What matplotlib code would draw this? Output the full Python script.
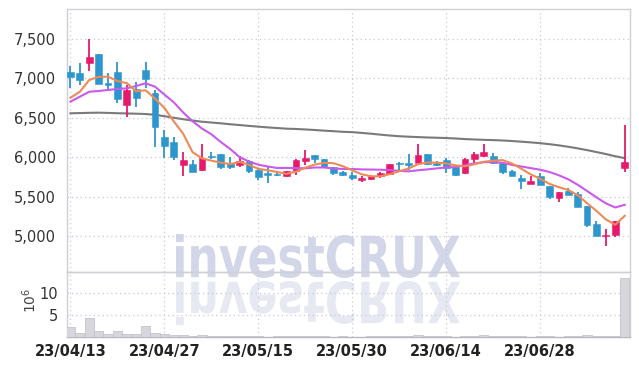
import matplotlib
matplotlib.use("Agg")
import matplotlib.pyplot as plt
import numpy as np
from matplotlib.textpath import TextPath
from matplotlib.font_manager import FontProperties
from matplotlib.patches import PathPatch
from matplotlib.transforms import Affine2D
from matplotlib.ticker import FuncFormatter

plt.rcParams['font.family'] = ['Liberation Sans Narrow', 'DejaVu Sans']

# daily candles, 2023-04-13 .. (index = trading day)
opens = [7080, 7070, 7200, 7310, 6945, 7075, 6665, 6870, 7105, 6810,
         6255, 6195, 5905, 5915, 5840, 6015, 6040, 5925, 5905, 5955,
         5840, 5805, 5790, 5765, 5830, 5955, 6030, 5975, 5870, 5810,
         5775, 5710, 5720, 5755, 5790, 5925, 5925, 5925, 6040, 5930,
         5965, 5880, 5795, 5975, 6010, 6015, 5930, 5830, 5730, 5660,
         5760, 5635, 5480, 5575, 5535, 5380, 5155, 5000, 5015, 5865]
highs = [7160, 7190, 7500, 7310, 7065, 7210, 6915, 6960, 7205, 6850,
         6345, 6250, 6060, 5970, 6165, 6065, 6040, 6000, 6015, 5960,
         5850, 5890, 5820, 5830, 5975, 6090, 6030, 5975, 5880, 5830,
         5810, 5765, 5770, 5815, 5915, 5945, 6035, 6165, 6045, 5950,
         5995, 5900, 5985, 6070, 6165, 6050, 5935, 5835, 5770, 5755,
         5795, 5640, 5555, 5615, 5560, 5385, 5185, 5085, 5185, 6410]
lows = [6880, 6920, 7100, 6925, 6855, 6685, 6505, 6640, 6875, 6125,
        5985, 5965, 5765, 5810, 5830, 5975, 5855, 5845, 5870, 5795,
        5710, 5670, 5755, 5745, 5770, 5900, 5925, 5865, 5770, 5755,
        5710, 5690, 5710, 5740, 5785, 5840, 5840, 5920, 5900, 5890,
        5795, 5765, 5790, 5900, 6005, 5910, 5790, 5760, 5595, 5655,
        5645, 5470, 5435, 5515, 5365, 5110, 4995, 4870, 4985, 5810]
closes = [7020, 6985, 7270, 6925, 6910, 6740, 6855, 6750, 6990, 6385,
          6145, 6005, 5965, 5815, 5995, 6005, 5880, 5870, 5950, 5820,
          5745, 5780, 5770, 5825, 5965, 5990, 5980, 5880, 5805, 5770,
          5730, 5730, 5755, 5800, 5910, 5910, 5905, 6030, 5910, 5900,
          5860, 5775, 5975, 6035, 6060, 5925, 5815, 5765, 5700, 5700,
          5650, 5490, 5555, 5525, 5370, 5140, 5000, 5015, 5185, 5945]
volume = [2.3, 0.9, 4.3, 1.4, 0.75, 1.4, 0.7, 0.7, 2.5, 1.0,
          0.75, 0.5, 0.45, 0.25, 0.45, 0.25, 0.2, 0.2, 0.2, 0.2,
          0.2, 0.1, 0.3, 0.25, 0.3, 0.25, 0.2, 0.2, 0.15, 0.2,
          0.15, 0.15, 0.2, 0.25, 0.3, 0.3, 0.25, 0.45, 0.3, 0.2,
          0.2, 0.15, 0.3, 0.3, 0.5, 0.3, 0.2, 0.2, 0.3, 0.15,
          0.2, 0.2, 0.15, 0.2, 0.25, 0.45, 0.25, 0.25, 0.3, 13.4]
ma5 = [6755, 6830, 6980, 7020, 7022, 6966, 6940, 6836, 6849, 6744,
       6625, 6455, 6298, 6063, 5985, 5956, 5931, 5912, 5939, 5904,
       5853, 5833, 5813, 5788, 5817, 5866, 5906, 5928, 5924, 5885,
       5833, 5783, 5758, 5757, 5785, 5821, 5856, 5911, 5933, 5931,
       5921, 5895, 5884, 5910, 5942, 5955, 5963, 5920, 5854, 5781,
       5726, 5661, 5619, 5583, 5518, 5416, 5318, 5210, 5142, 5256]
ma10 = [6705, 6768, 6831, 6840, 6853, 6866, 6874, 6904, 6938, 6895,
        6795, 6697, 6567, 6456, 6364, 6291, 6193, 6105, 6001, 5945,
        5905, 5882, 5863, 5864, 5861, 5859, 5869, 5870, 5856, 5851,
        5850, 5845, 5843, 5841, 5835, 5827, 5820, 5834, 5845, 5858,
        5871, 5875, 5898, 5921, 5936, 5938, 5929, 5902, 5882, 5861,
        5841, 5812, 5770, 5719, 5650, 5571, 5490, 5414, 5362, 5395]
ma_long = [6557, 6560, 6563, 6565, 6562, 6558, 6555, 6552, 6548, 6538,
           6520, 6500, 6482, 6465, 6450, 6440, 6430, 6418, 6408, 6397,
           6388, 6378, 6370, 6362, 6358, 6352, 6345, 6337, 6330, 6322,
           6318, 6308, 6298, 6286, 6275, 6266, 6260, 6255, 6250, 6247,
           6243, 6237, 6230, 6225, 6220, 6217, 6212, 6205, 6197, 6188,
           6178, 6165, 6150, 6132, 6112, 6090, 6065, 6040, 6012, 5988]

tick_idx = [0, 10, 20, 30, 40, 50]
tick_labels = ['23/04/13', '23/04/27', '23/05/15', '23/05/30', '23/06/14', '23/06/28']

UP = '#e6196a'
DOWN = '#2d96cd'
GRID = '#c8c8d8'
SPINE = '#cfcfd6'

W, H = 639, 366
fig = plt.figure(figsize=(W / 100, H / 100), dpi=100, facecolor='white')
ax = fig.add_axes([66.7 / W, 1 - 272.3 / H, (630.3 - 66.7) / W, (272.3 - 9.3) / H])
vax = fig.add_axes([66.7 / W, 1 - 337.3 / H, (630.3 - 66.7) / W, (337.3 - 272.3) / H], sharex=ax)
for a in (ax, vax):
    a.patch.set_visible(False)

x = np.arange(len(closes))
o = np.array(opens); c = np.array(closes)
cols = [UP if cc >= oo else DOWN for oo, cc in zip(o, c)]

ax.vlines(x, lows, highs, colors=cols, linewidth=1.3, zorder=3)
body_bot = np.minimum(o, c)
body_h = np.maximum(np.abs(c - o), 14)
ax.bar(x, body_h, bottom=body_bot, width=0.72, color=cols, edgecolor=cols, linewidth=0.4, zorder=4)

ax.plot(x, ma_long, color='#7a7a7a', lw=1.5, zorder=2)
ax.plot(x, ma10, color='#c95aec', lw=1.5, zorder=5)
ax.plot(x, ma5, color='#ee8a58', lw=1.5, zorder=5)

ax.set_xlim(-0.4, 59.6)
ax.set_ylim(4539, 7877)
ax.set_yticks([5000, 5500, 6000, 6500, 7000, 7500])
ax.yaxis.set_major_formatter(FuncFormatter(lambda v, p: f'{int(v):,}'))
ax.tick_params(axis='y', length=0, pad=8, labelsize=10.5, labelcolor='#333333')
ax.tick_params(axis='x', length=0, labelbottom=False)
ax.set_xticks(tick_idx)
ax.grid(True, linestyle=(0, (1, 2.5)), color=GRID, lw=0.9)
for s in ax.spines.values():
    s.set_color(SPINE)
    s.set_linewidth(1.0)

vax.bar(x, volume, width=0.98, color='#d6d6dc', edgecolor='#c4c4cc', linewidth=0.6, zorder=3)
vax.set_ylim(0, 14.77)
vax.set_yticks([5, 10])
vax.set_yticklabels(['5', '10'])
vax.set_xticks(tick_idx)
vax.set_xticklabels(tick_labels, fontweight='bold')
vax.tick_params(axis='y', length=0, pad=6, labelsize=10.5, labelcolor='#333333')
vax.tick_params(axis='x', length=0, pad=5, labelsize=10.5, labelcolor='#222222')
vax.grid(True, linestyle=(0, (1, 2.5)), color=GRID, lw=0.9)
for s in vax.spines.values():
    s.set_color(SPINE)
    s.set_linewidth(1.0)
vax.spines['bottom'].set_color('#b8b8c0')

fig.text(30 / W, 1 - 300 / H, '$10^{6}$', rotation=90, ha='center', va='center',
         fontsize=10, color='#444444', family='DejaVu Sans')

# watermark with its reflection
fp = FontProperties(family='DejaVu Sans', weight='bold')
tp = TextPath((0, 0), 'investCRUX', size=1, prop=fp)
ext = tp.get_extents()
x0, x1, ytop, ybase = 176, 460, 234, 278
sx = (x1 - x0) / ext.width
sy = (ybase - ytop) / ext.height
t_main = Affine2D().translate(-ext.x0, -ext.y0).scale(sx / W, sy / H).translate(x0 / W, 1 - ybase / H)
t_refl = Affine2D().translate(-ext.x0, -ext.y0).scale(sx / W, -sy / H).translate(x0 / W, 1 - (ybase + 3) / H)
wm = PathPatch(tp, transform=t_main + fig.transFigure, facecolor='#d2d6e8', edgecolor='none', zorder=-1)
wr = PathPatch(tp, transform=t_refl + fig.transFigure, facecolor='#e7e9f2', edgecolor='none', zorder=-1)
fig.add_artist(wm)
fig.add_artist(wr)

fig.savefig('out.png', dpi=100, facecolor='white')
